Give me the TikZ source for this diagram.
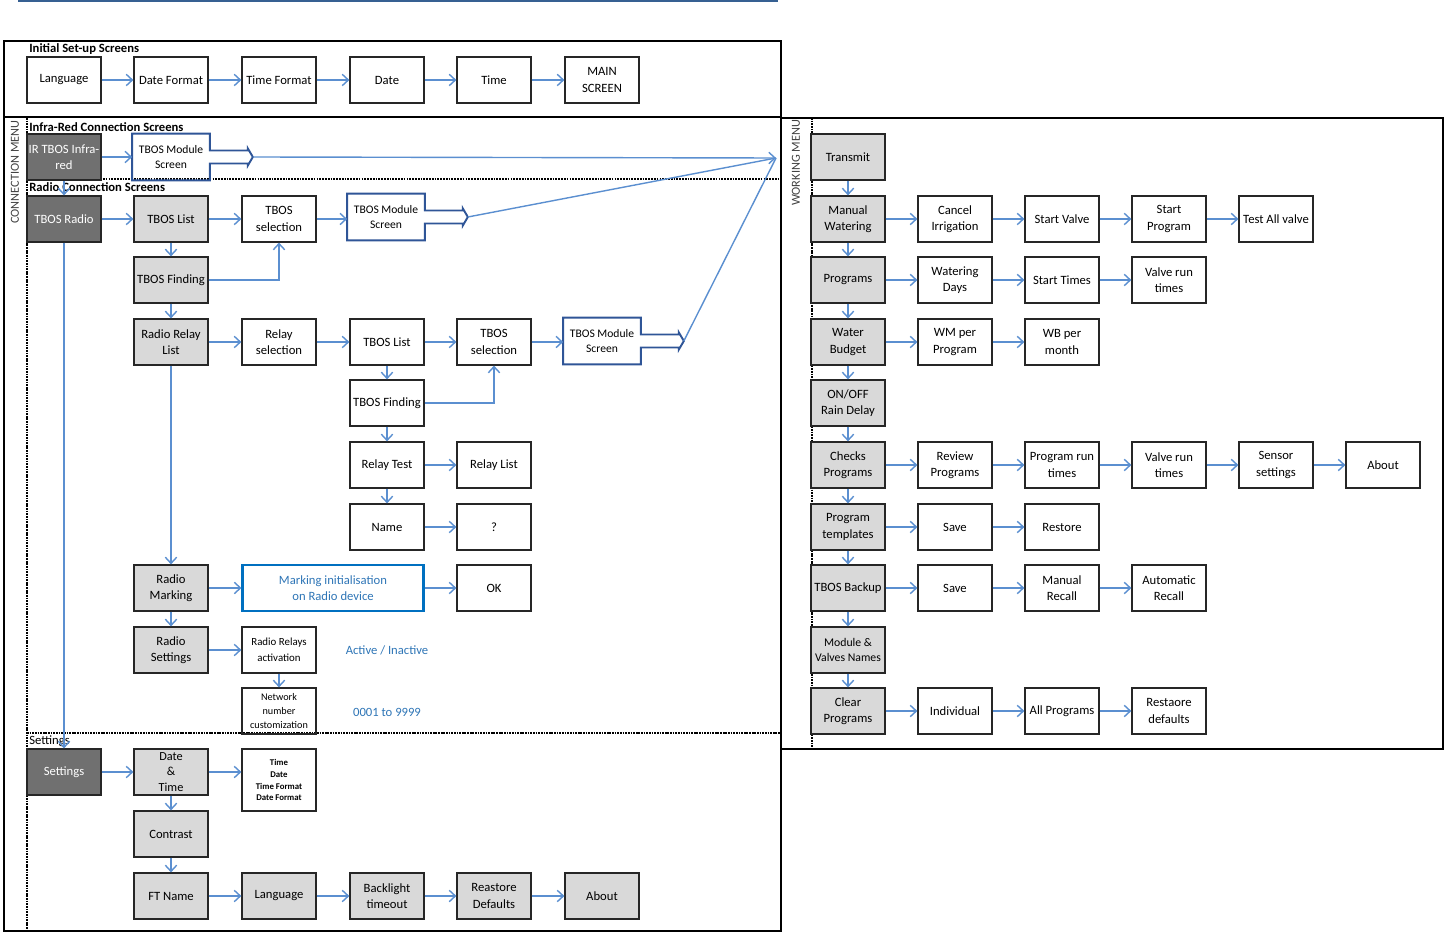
\documentclass[tikz,border=0pt]{standalone}
\usepackage{fontspec}
\setmainfont{Carlito}
\usepackage{tikz}
\usetikzlibrary{arrows.meta,calc,positioning}
\definecolor{flowblue}{RGB}{91,143,208}
\definecolor{modblue}{RGB}{47,85,151}
\definecolor{markblue}{RGB}{0,112,192}
\definecolor{notesblue}{RGB}{46,117,182}
\definecolor{topblue}{RGB}{54,96,146}
\definecolor{darkbox}{RGB}{112,112,112}
\definecolor{lightbox}{RGB}{217,217,217}
\definecolor{boxline}{RGB}{38,38,38}
\definecolor{menugray}{RGB}{64,64,64}

\tikzset{
  scr/.style={draw=boxline, line width=0.7pt, minimum width=1.48cm, minimum height=0.92cm,
    inner sep=1pt, align=center, font=\fontsize{7.2}{9.4}\selectfont},
  menu/.style={scr, fill=lightbox},
  entry/.style={scr, fill=darkbox, text=white},
  modscr/.style={minimum width=1.54cm, minimum height=0.92cm, inner sep=1pt, align=center,
    font=\fontsize{6.6}{9}\selectfont},
  modline/.style={draw=modblue, line width=1.1pt, line join=miter},
  flow/.style={->, draw=flowblue, line width=0.8pt},
  link/.style={draw=flowblue, line width=0.8pt},
  frame/.style={line width=1.2pt},
  sep/.style={line width=1.3pt, dash pattern=on 1pt off 0.5pt},
  thinsep/.style={line width=0.6pt, dash pattern=on 1pt off 0.6pt},
  title/.style={anchor=west, font=\bfseries\fontsize{7.2}{9}\selectfont, inner sep=0pt},
  note/.style={text=notesblue, font=\fontsize{7.2}{9}\selectfont},
  >={Straight Barb[length=3.5pt,width=6.5pt]}
}

% outline of a "TBOS Module Screen" box with its fat arrow
\newcommand{\modscreen}[1]{%
  \draw[modline] (#1.north west) -- (#1.north east) -- ($(#1.east)+(0,-6.5)$) -- ++(38,0)
    -- ++(0,-2) -- ($(#1.east)+(43,0)$) -- ($(#1.east)+(38,8.5)$) -- ++(0,-2)
    -- ($(#1.east)+(0,6.5)$) -- (#1.south east) -- (#1.south west) -- cycle;
  \coordinate (#1tip) at ($(#1.east)+(43,0)$);}

\begin{document}
\begin{tikzpicture}[x=0.02cm, y=-0.02cm]
  \useasboundingbox (0,0) rectangle (1450,935);
  \draw[topblue, line width=1.5pt] (18,1) -- (778,1);

  % frames
  \draw[sep] (27,118) -- (27,931);
  \draw[thinsep] (27,179) -- (781,179);
  \draw[sep] (27,733) -- (781,733);
  \draw[sep] (812,118) -- (812,749);
  \draw[frame] (4,41) rectangle (781,931);
  \draw[frame] (4,117) -- (781,117);
  \draw[frame] (781,118) rectangle (1443,749);

  \node[title] (tinit) at (29,49) {Initial Set-up Screens};
  \node[title] (tir) at (29,127) {Infra-Red Connection Screens};
  \node[title] (tradio) at (29,187) {Radio Connection Screens};
  \node[title, font=\fontsize{7.2}{9}\selectfont] (tsett) at (29,741) {Settings};
  \node[rotate=90, text=menugray, font=\fontsize{7}{8}\selectfont] (cmenu) at (15,172) {CONNECTION MENU};
  \node[rotate=90, text=menugray, font=\fontsize{7}{8}\selectfont] (wmenu) at (796,163) {WORKING MENU};

  % initial set-up
  \node[scr] (lang) at (64,80) {Language};
  \node[scr] (dfmt) at (171,80) {Date Format};
  \node[scr] (tfmt) at (279,80) {Time Format};
  \node[scr] (date) at (387,80) {Date};
  \node[scr] (time) at (494,80) {Time};
  \node[scr] (main) at (602,80) {MAIN\\SCREEN};

  % infra-red
  \node[entry] (ir) at (64,157) {IR TBOS Infra-\\red};
  \node[modscr] (irmod) at (171,157) {TBOS Module\\Screen};
  \modscreen{irmod}

  % radio
  \node[entry] (radio) at (64,219) {TBOS Radio};
  \node[menu] (tlist) at (171,219) {TBOS List};
  \node[scr] (tsel) at (279,219) {TBOS\\selection};
  \node[modscr] (rmod) at (386,217) {TBOS Module\\Screen};
  \modscreen{rmod}
  \node[menu] (tfind) at (171,280) {TBOS Finding};
  \node[menu] (rrlist) at (171,342) {Radio Relay\\List};
  \node[scr] (rsel) at (279,342) {Relay\\selection};
  \node[scr] (tlistb) at (387,342) {TBOS List};
  \node[scr] (tselb) at (494,342) {TBOS\\selection};
  \node[modscr] (rmodb) at (602,341) {TBOS Module\\Screen};
  \modscreen{rmodb}
  \node[scr] (tfindb) at (387,403) {TBOS Finding};
  \node[scr] (rtest) at (387,465) {Relay Test};
  \node[scr] (rlist) at (494,465) {Relay List};
  \node[scr] (name) at (387,527) {Name};
  \node[scr] (qmark) at (494,527) {?};
  \node[menu] (rmark) at (171,588) {Radio\\Marking};
  \node[scr, draw=markblue, line width=1.2pt, minimum width=3.62cm, text=notesblue] (minit) at (333,588) {Marking initialisation\\on Radio device};
  \node[scr] (ok) at (494,588) {OK};
  \node[menu] (rset) at (171,650) {Radio\\Settings};
  \node[scr, font=\fontsize{6.2}{9}\selectfont] (ract) at (279,650) {Radio Relays\\activation};
  \node[note] (actv) at (387,650) {Active / Inactive};
  \node[scr, font=\fontsize{5.8}{7.9}\selectfont] (netnum) at (279,711) {Network\\number\\customization};
  \node[note] (range) at (387,712) {0001 to 9999};

  % settings
  \node[entry] (sett) at (64,772) {Settings};
  \node[menu, font=\fontsize{7}{8.8}\selectfont] (dtime) at (171,772) {Date\\\&\\Time};
  \node[scr, minimum height=1.24cm, font=\bfseries\fontsize{5}{6.8}\selectfont] (dtlist) at (279,780) {Time\\Date\\Time Format\\Date Format};
  \node[menu] (contr) at (171,834) {Contrast};
  \node[menu] (ftname) at (171,896) {FT Name};
  \node[menu] (langb) at (279,896) {Language};
  \node[menu] (blight) at (387,896) {Backlight\\timeout};
  \node[menu] (reast) at (494,896) {Reastore\\Defaults};
  \node[menu] (aboutb) at (602,896) {About};

  % working menu
  \node[menu] (trans) at (848,157) {Transmit};
  \node[menu] (manw) at (848,219) {Manual\\Watering};
  \node[scr] (cancel) at (955,219) {Cancel\\Irrigation};
  \node[scr] (svalve) at (1062,219) {Start Valve};
  \node[scr] (sprog) at (1169,219) {Start\\Program};
  \node[scr] (testall) at (1276,219) {Test All valve};
  \node[menu] (progs) at (848,280) {Programs};
  \node[scr] (wdays) at (955,280) {Watering\\Days};
  \node[scr] (stimes) at (1062,280) {Start Times};
  \node[scr] (vrun) at (1169,280) {Valve run\\times};
  \node[menu] (budget) at (848,342) {Water\\Budget};
  \node[scr] (wmprog) at (955,342) {WM per\\Program};
  \node[scr] (wbmonth) at (1062,342) {WB per\\month};
  \node[menu] (rain) at (848,403) {ON/OFF\\Rain Delay};
  \node[menu] (checks) at (848,465) {Checks\\Programs};
  \node[scr] (review) at (955,465) {Review\\Programs};
  \node[scr] (prun) at (1062,465) {Program run\\times};
  \node[scr] (vrunb) at (1169,465) {Valve run\\times};
  \node[scr] (sensor) at (1276,465) {Sensor\\settings};
  \node[scr] (aboutw) at (1383,465) {About};
  \node[menu] (templ) at (848,527) {Program\\templates};
  \node[scr] (savea) at (955,527) {Save};
  \node[scr] (restore) at (1062,527) {Restore};
  \node[menu] (backup) at (848,588) {TBOS Backup};
  \node[scr] (saveb) at (955,588) {Save};
  \node[scr] (mrecall) at (1062,588) {Manual\\Recall};
  \node[scr] (arecall) at (1169,588) {Automatic\\Recall};
  \node[menu, font=\fontsize{6.7}{9}\selectfont] (names) at (848,650) {Module \&\\Valves Names};
  \node[menu] (clear) at (848,711) {Clear\\Programs};
  \node[scr] (indiv) at (955,711) {Individual};
  \node[scr] (allp) at (1062,711) {All Programs};
  \node[scr] (rdef) at (1169,711) {Restaore\\defaults};

  % connectors: set-up
  \draw[flow] (lang) -- (dfmt);
  \draw[flow] (dfmt) -- (tfmt);
  \draw[flow] (tfmt) -- (date);
  \draw[flow] (date) -- (time);
  \draw[flow] (time) -- (main);

  % connectors: to working menu
  \coordinate (wm) at (776,158);
  \draw[flow] (irmodtip) -- (wm);
  \draw[link] (rmodtip) -- (wm);
  \draw[link] (rmodbtip) -- (wm);

  % connectors: connection menu
  \draw[flow] (ir) -- (irmod);
  \draw[flow] (ir) -- (radio);
  \draw[flow] (radio) -- (tlist);
  \draw[flow] (tlist) -- (tsel);
  \draw[flow] (tsel) -- (tsel -| rmod.west);
  \draw[flow] (tlist) -- (tfind);
  \draw[flow] (tfind.east) -| (tsel.south);
  \draw[flow] (tfind) -- (rrlist);
  \draw[flow] (rrlist) -- (rsel);
  \draw[flow] (rsel) -- (tlistb);
  \draw[flow] (tlistb) -- (tselb);
  \draw[flow] (tselb) -- (tselb -| rmodb.west);
  \draw[flow] (tlistb) -- (tfindb);
  \draw[flow] (tfindb.east) -| (tselb.south);
  \draw[flow] (tfindb) -- (rtest);
  \draw[flow] (rtest) -- (rlist);
  \draw[flow] (rtest) -- (name);
  \draw[flow] (name) -- (qmark);
  \draw[flow] (rrlist) -- (rmark);
  \draw[flow] (rmark) -- (minit);
  \draw[flow] (minit) -- (ok);
  \draw[flow] (rmark) -- (rset);
  \draw[flow] (rset) -- (ract);
  \draw[flow] (ract) -- (netnum);
  \draw[flow] (radio) -- (sett);

  % connectors: settings
  \draw[flow] (sett) -- (dtime);
  \draw[flow] (dtime.east) -- (dtime.east -| dtlist.west);
  \draw[flow] (dtime) -- (contr);
  \draw[flow] (contr) -- (ftname);
  \draw[flow] (ftname) -- (langb);
  \draw[flow] (langb) -- (blight);
  \draw[flow] (blight) -- (reast);
  \draw[flow] (reast) -- (aboutb);

  % connectors: working menu
  \draw[flow] (trans) -- (manw);
  \draw[flow] (manw) -- (progs);
  \draw[flow] (progs) -- (budget);
  \draw[flow] (budget) -- (rain);
  \draw[flow] (rain) -- (checks);
  \draw[flow] (checks) -- (templ);
  \draw[flow] (templ) -- (backup);
  \draw[flow] (backup) -- (names);
  \draw[flow] (names) -- (clear);
  \draw[flow] (manw) -- (cancel);
  \draw[flow] (cancel) -- (svalve);
  \draw[flow] (svalve) -- (sprog);
  \draw[flow] (sprog) -- (testall);
  \draw[flow] (progs) -- (wdays);
  \draw[flow] (wdays) -- (stimes);
  \draw[flow] (stimes) -- (vrun);
  \draw[flow] (budget) -- (wmprog);
  \draw[flow] (wmprog) -- (wbmonth);
  \draw[flow] (checks) -- (review);
  \draw[flow] (review) -- (prun);
  \draw[flow] (prun) -- (vrunb);
  \draw[flow] (vrunb) -- (sensor);
  \draw[flow] (sensor) -- (aboutw);
  \draw[flow] (templ) -- (savea);
  \draw[flow] (savea) -- (restore);
  \draw[flow] (backup) -- (saveb);
  \draw[flow] (saveb) -- (mrecall);
  \draw[flow] (mrecall) -- (arecall);
  \draw[flow] (clear) -- (indiv);
  \draw[flow] (indiv) -- (allp);
  \draw[flow] (allp) -- (rdef);
\end{tikzpicture}
\end{document}
